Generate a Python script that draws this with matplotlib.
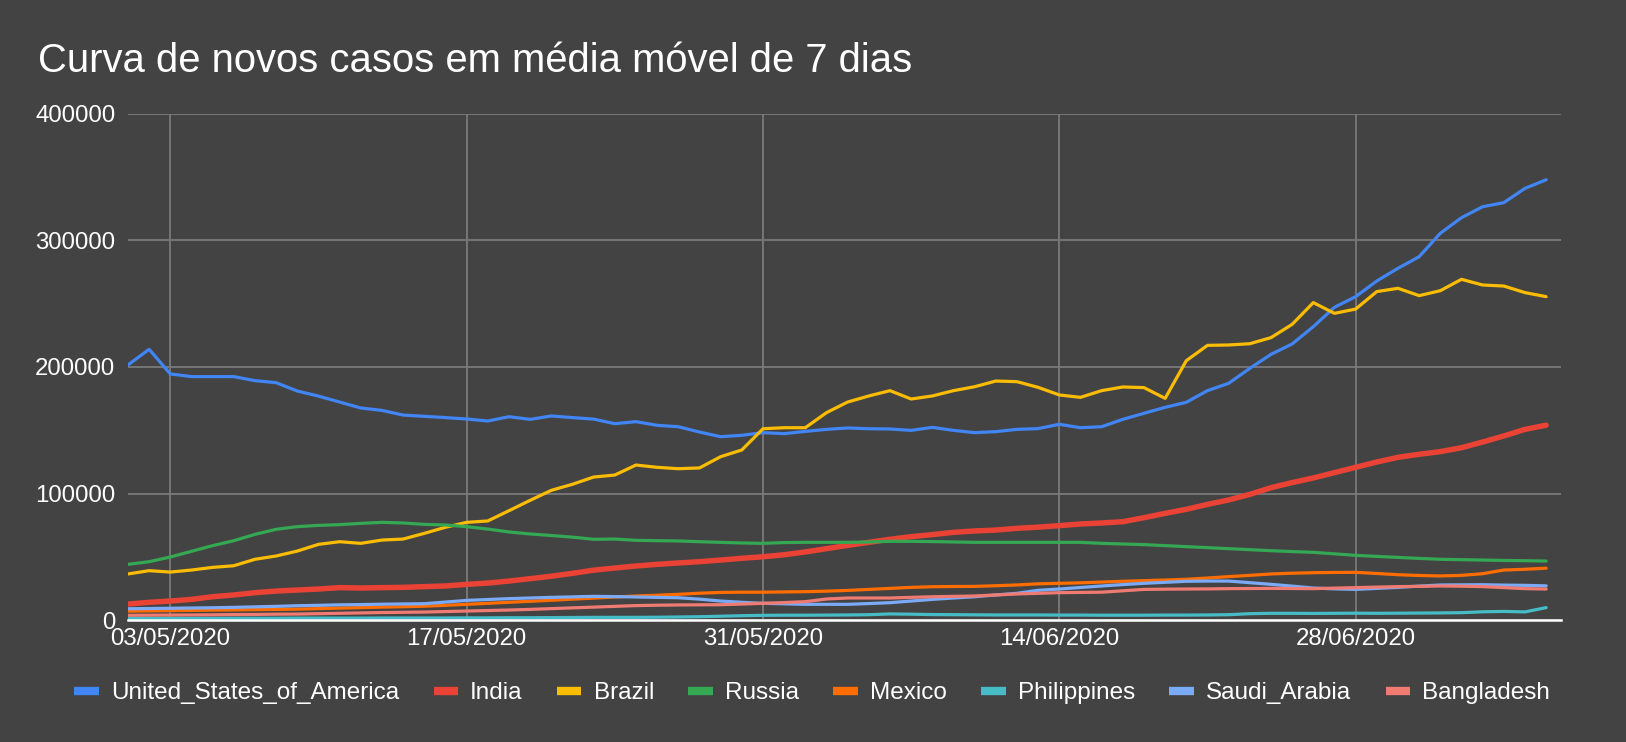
import numpy as np
import pandas as pd
import matplotlib
matplotlib.use('Agg')
import matplotlib.pyplot as plt
import matplotlib.dates as mdates

plt.rcParams['font.family'] = ['Liberation Sans', 'DejaVu Sans']

# 7-day values, in thousands, 01/05/2020 .. 07/07/2020
dates = pd.date_range('2020-05-01', periods=68, freq='D')

usa = [201.6, 214, 194.5, 192.4, 192.4, 192.4, 189.2, 187.6, 181, 177,
       172.3, 167.6, 165.7, 162, 161, 160, 158.9, 157.3, 160.7, 158.6,
       161.3, 160, 158.8, 155.2, 156.8, 153.9, 152.8, 148.6, 144.9, 146,
       148.1, 147.3, 149.1, 150.7, 151.8, 151.2, 151, 149.9, 152.3, 149.9,
       148.1, 148.9, 150.7, 151.3, 154.7, 152, 152.8, 158.6, 163.4, 168.1,
       172.1, 181.3, 187.1, 198.9, 210, 218.2, 231.9, 247.2, 255.6, 268,
       278, 287.2, 305.7, 318, 326.7, 329.9, 341.2, 348]
india = [12.6, 14, 15, 16.3, 18.4, 19.8, 21.6, 22.9, 23.7, 24.5,
         25.6, 25.3, 25.6, 25.8, 26.4, 26.9, 28.2, 29.2, 30.8, 32.7,
         34.6, 36.9, 39.4, 41.1, 42.7, 44, 45.1, 46.1, 47.4, 48.8,
         50, 51.6, 53.8, 56.4, 59, 61.4, 63.8, 65.9, 67.5, 69.3,
         70.4, 71.1, 72.5, 73.4, 74.6, 75.9, 76.7, 77.7, 80.9, 84.3,
         87.5, 91.4, 94.9, 99.3, 104.6, 108.6, 112.3, 116.5, 120.7, 124.9,
         128.6, 131, 133.1, 136.2, 140.7, 145.5, 150.7, 154]
brazil = [36.4, 39, 37.9, 39.5, 41.6, 42.9, 48, 50.6, 54.5, 59.8,
          61.9, 60.6, 63.2, 64, 68.5, 73.3, 77.2, 78.3, 86.4, 94.6,
          102.5, 107.3, 113, 114.6, 122.5, 120.7, 119.6, 120.2, 129.1, 134.4,
          151.2, 152, 152, 163.9, 172.3, 177.1, 181.3, 174.7, 177.1, 181.3,
          184.4, 188.9, 188.4, 183.9, 177.9, 176, 181.3, 184.2, 183.7, 175.2,
          205, 217.1, 217.4, 218.4, 223.2, 233.7, 250.9, 242.4, 245.8, 259.6,
          262.2, 256.4, 260.3, 269.3, 264.8, 264, 258.8, 255.6]
russia = [44, 46.1, 49.8, 54.3, 58.8, 62.7, 67.7, 71.7, 73.8, 74.8,
          75.4, 76.4, 77.2, 76.7, 75.6, 75.1, 73.8, 71.9, 69.6, 68,
          66.8, 65.5, 63.8, 64, 63, 62.7, 62.5, 61.9, 61.4, 60.9,
          60.6, 61.2, 61.4, 61.4, 61.4, 61.7, 62.2, 62.2, 62, 61.7,
          61.4, 61.4, 61.4, 61.4, 61.4, 61.4, 60.6, 60.1, 59.6, 58.8,
          58, 57.2, 56.4, 55.6, 54.8, 54.1, 53.5, 52.3, 51.1, 50.3,
          49.5, 48.7, 48, 47.7, 47.4, 47.1, 46.9, 46.6]
mexico = [7.0, 7.2, 7.4, 7.6, 7.8, 8.0, 8.2, 8.4, 8.6, 9.0,
          9.4, 9.8, 10.2, 10.5, 10.9, 11.6, 12.4, 13.2, 14.0, 14.8,
          15.6, 16.5, 17.3, 18.2, 19.0, 19.6, 20.3, 21.2, 21.8, 22.0,
          22.0, 22.2, 22.4, 22.8, 23.4, 24.2, 25.0, 25.8, 26.3, 26.5,
          26.6, 27.1, 27.7, 28.6, 29.0, 29.4, 30.0, 30.6, 31.1, 31.6,
          32.2, 33.2, 34.3, 35.3, 36.4, 37.0, 37.4, 37.6, 37.7, 36.8,
          35.8, 35.2, 34.8, 35.3, 36.6, 39.5, 40.1, 41.0]
philippines = [1.2, 1.2, 1.3, 1.3, 1.3, 1.4, 1.4, 1.4, 1.5, 1.5,
               1.5, 1.5, 1.6, 1.6, 1.6, 1.6, 1.7, 1.7, 1.8, 1.8,
               1.9, 2.0, 2.1, 2.1, 2.1, 2.2, 2.4, 2.6, 3.0, 3.4,
               3.7, 3.8, 3.8, 3.9, 4.0, 4.2, 4.8, 4.6, 4.3, 4.2,
               4.1, 4.0, 4.0, 4.0, 3.9, 3.9, 3.8, 3.8, 3.8, 3.9,
               3.9, 4.0, 4.2, 5.0, 5.3, 5.3, 5.2, 5.3, 5.4, 5.3,
               5.4, 5.5, 5.6, 5.8, 6.5, 6.8, 6.4, 9.8]
saudi = [8.9, 9.1, 9.3, 9.5, 9.7, 10.0, 10.4, 10.8, 11.3, 11.6,
         12.0, 12.2, 12.5, 12.7, 12.9, 14.2, 15.5, 16.2, 16.9, 17.4,
         17.9, 18.3, 18.7, 18.5, 18.2, 17.9, 17.6, 16.5, 15.0, 14.0,
         13.2, 12.8, 12.4, 12.4, 12.4, 13.0, 13.7, 15.0, 16.3, 17.4,
         18.4, 19.8, 21.1, 23.5, 24.5, 25.7, 26.9, 28.0, 29.0, 29.8,
         30.6, 30.8, 30.8, 29.5, 28.2, 26.8, 25.3, 24.6, 24.2, 25.0,
         25.8, 26.8, 27.7, 27.8, 27.9, 27.6, 27.4, 27.0]
bangladesh = [3.7, 3.8, 3.9, 4.0, 4.1, 4.3, 4.4, 4.6, 4.7, 5.0,
              5.3, 5.6, 5.9, 6.1, 6.3, 6.7, 7.1, 7.5, 7.9, 8.4,
              9.0, 9.6, 10.2, 10.8, 11.4, 11.7, 11.9, 12.0, 12.1, 12.6,
              13.2, 13.8, 14.5, 16.6, 17.4, 17.4, 17.4, 17.9, 18.4, 18.7,
              19.0, 19.8, 20.6, 21.1, 21.6, 21.8, 22.0, 23.1, 24.2, 24.4,
              24.5, 24.6, 24.8, 24.9, 25.0, 24.9, 24.8, 25.2, 25.6, 26.0,
              26.4, 26.6, 26.9, 26.7, 26.4, 25.6, 24.8, 24.5]

names = ['United_States_of_America', 'India', 'Brazil', 'Russia', 'Mexico',
         'Philippines', 'Saudi_Arabia', 'Bangladesh']
series = [usa, india, brazil, russia, mexico, philippines, saudi, bangladesh]
colors = ['#4285F4', '#EA4335', '#FBBC04', '#34A853', '#FF6D01',
          '#46BDC6', '#7BAAF7', '#F07B72']
widths = [2.3, 3.9, 2.3, 2.3, 2.3, 2.3, 2.3, 2.3]

tick_dates = pd.to_datetime(['2020-05-03', '2020-05-17', '2020-05-31',
                             '2020-06-14', '2020-06-28'])
y_ticks = [0, 100000, 200000, 300000, 400000]

bg = '#434343'
fig = plt.figure(figsize=(16.26, 7.42), dpi=100, facecolor=bg)
ax = fig.add_axes([0.0787, 0.1644, 0.8813, 0.682])
ax.set_facecolor(bg)

for name, vals, c, w in zip(names, series, colors, widths):
    ax.plot(dates, np.array(vals) * 1000, color=c, lw=w, label=name,
            solid_joinstyle='round', solid_capstyle='round')

ax.set_ylim(0, 400000)
ax.set_xlim(dates[0], dates[0] + pd.Timedelta(days=67.7))
ax.set_yticks(y_ticks)
ax.set_yticklabels([str(v) for v in y_ticks])
ax.set_xticks(tick_dates)
ax.xaxis.set_major_formatter(mdates.DateFormatter('%d/%m/%Y'))
ax.tick_params(length=0, colors='white', labelsize=17.3)
ax.tick_params(axis='y', pad=9)
ax.tick_params(axis='x', pad=6)
ax.grid(True, color='#7a7a7a', lw=1.3)
ax.set_axisbelow(True)
for s in ['top', 'right', 'left']:
    ax.spines[s].set_visible(False)
ax.spines['bottom'].set_color('white')
ax.spines['bottom'].set_linewidth(1.8)
ax.spines['bottom'].set_zorder(5)

fig.text(38 / 1626, 1 - 72 / 742, 'Curva de novos casos em média móvel de 7 dias',
         color='white', fontsize=28.8, va='baseline', ha='left')

leg = fig.legend(loc='center', bbox_to_anchor=(0.4995, 1 - 693 / 742), ncol=8,
                 frameon=False, fontsize=17.5, handlelength=1.0,
                 handletextpad=0.5, columnspacing=1.42)
for t in leg.get_texts():
    t.set_color('white')
for h in leg.legend_handles:
    h.set_linewidth(6)
    h.set_solid_capstyle('butt')

fig.savefig('out.png', dpi=100, facecolor=bg)
